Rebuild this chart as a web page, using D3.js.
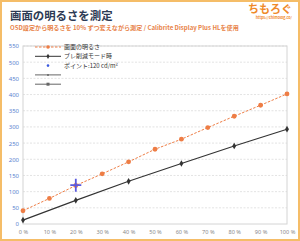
<!DOCTYPE html>
<html>
<head>
<meta charset="utf-8">
<script src="https://cdn.jsdelivr.net/npm/d3@7"></script>
<style>
body { margin: 0; background: #fff; }
svg { display: block; }
text { font-family: "Noto Sans CJK JP", "Noto Sans", sans-serif; }
</style>
</head>
<body>
<div id="chart"></div>
<script>
// data
var xLabels = ["0 %","10 %","20 %","30 %","40 %","50 %","60 %","70 %","80 %","90 %","100 %"];
var xSteps = [0,10,20,30,40,50,60,70,80,90,100];
var brightness = [41,79,119,155,192,231,262,298,333,367,402];
var blurSteps = [0,20,40,60,80,100];
var blurValues = [12,73,132,187,241,293];
var pointStep = [20];
var pointValue = [120];
var yTicks = [0,50,100,150,200,250,300,350,400,450,500,550];
var legendNames = ["画面の明るさ","ブレ削減モード時","ポイント:120 cd/m²","",""];

var W = 300, H = 241;
var svg = d3.select("#chart").append("svg")
    .attr("width", W)
    .attr("height", H);

// orange frame
svg.append("rect")
    .attr("x", 1).attr("y", 1)
    .attr("width", W - 2).attr("height", H - 2)
    .attr("fill", "#fff")
    .attr("stroke", "#f5bd68")
    .attr("stroke-width", 2);

// title
svg.append("text")
    .attr("x", 10).attr("y", 20)
    .attr("font-size", 11.4).attr("font-weight", "bold")
    .attr("fill", "#2d3b55")
    .text("画面の明るさを測定");
svg.append("text")
    .attr("x", 10).attr("y", 30)
    .attr("font-size", 6.1).attr("font-weight", "bold")
    .attr("fill", "#e8834a")
    .text("OSD設定から明るさを 10% ずつ変えながら測定 / Calibrite Display Plus HLを使用");

// logo
svg.append("text")
    .attr("x", 292).attr("y", 13)
    .attr("text-anchor", "end")
    .attr("font-size", 11).attr("font-weight", "bold")
    .attr("fill", "#ef8a2a")
    .text("ちもろぐ");
svg.append("text")
    .attr("x", 292).attr("y", 19)
    .attr("text-anchor", "end")
    .attr("font-size", 3.6).attr("font-weight", "bold")
    .attr("fill", "#ef8a2a")
    .text("https://chimolog.co/");

var plotL = 23, plotR = 287, plotT = 46, plotB = 224;
var x = d3.scaleLinear().domain([0,100]).range([plotL, plotR]);
var y = d3.scaleLinear().domain([0,550]).range([plotB, plotT]);

// gridlines
svg.append("g").selectAll("line")
    .data(yTicks.slice(1))
    .enter().append("line")
    .attr("x1", plotL).attr("x2", plotR)
    .attr("y1", d => y(d)).attr("y2", d => y(d))
    .attr("stroke", "#dcdcdc")
    .attr("stroke-width", 0.8)
    .attr("stroke-dasharray", "2,1.5");

// plot border
svg.append("rect")
    .attr("x", plotL).attr("y", plotT)
    .attr("width", plotR - plotL).attr("height", plotB - plotT)
    .attr("fill", "none")
    .attr("stroke", "#d4d4d4")
    .attr("stroke-width", 1);

// y axis
var yAxis = d3.axisLeft(y).tickValues(yTicks).tickSize(0).tickPadding(4);
var gy = svg.append("g").attr("transform", "translate(" + plotL + ",0)").call(yAxis);
gy.select(".domain").remove();
gy.selectAll("text")
    .attr("font-size", 6)
    .attr("fill", "#5b7fd0")
    .style("font-family", "'Noto Sans', sans-serif");

// x axis
var xAxis = d3.axisBottom(x).tickValues(xSteps).tickSize(0).tickPadding(6)
    .tickFormat((d, i) => xLabels[i]);
var gx = svg.append("g").attr("transform", "translate(0," + plotB + ")").call(xAxis);
gx.select(".domain").remove();
gx.selectAll("text")
    .attr("font-size", 5.6)
    .attr("fill", "#8a8a8a")
    .style("font-family", "'Noto Sans', sans-serif");

var line = d3.line()
    .x(d => x(d[0]))
    .y(d => y(d[1]));

// blur reduction line
var blurData = blurSteps.map((s, i) => [s, blurValues[i]]);
svg.append("path")
    .datum(blurData)
    .attr("d", line)
    .attr("fill", "none")
    .attr("stroke", "#333")
    .attr("stroke-width", 1.1);
svg.append("g").selectAll("path")
    .data(blurData)
    .enter().append("path")
    .attr("d", d3.symbol().type(d3.symbolDiamond).size(13))
    .attr("transform", d => "translate(" + x(d[0]) + "," + y(d[1]) + ")")
    .attr("fill", "#333");

// brightness line
var brData = xSteps.map((s, i) => [s, brightness[i]]);
svg.append("path")
    .datum(brData)
    .attr("d", line)
    .attr("fill", "none")
    .attr("stroke", "#ee7d45")
    .attr("stroke-width", 1)
    .attr("stroke-dasharray", "2.5,1.5");
svg.append("g").selectAll("circle")
    .data(brData)
    .enter().append("circle")
    .attr("cx", d => x(d[0]))
    .attr("cy", d => y(d[1]))
    .attr("r", 2.4)
    .attr("fill", "#ee7d45");

// point marker (cross)
var pt = pointStep.map((s, i) => [s, pointValue[i]]);
svg.append("g").selectAll("path")
    .data(pt)
    .enter().append("path")
    .attr("d", "M-5.5,0H5.5M0,-6.5V6.5")
    .attr("transform", d => "translate(" + x(d[0]) + "," + y(d[1]) + ")")
    .attr("stroke", "#5a5ae0")
    .attr("stroke-width", 1.8);

// legend
var lg = svg.append("g").attr("transform", "translate(35,47)");
var rowH = 9.3;
legendNames.forEach(function(name, i) {
    var g = lg.append("g").attr("transform", "translate(0," + (i * rowH) + ")");
    if (i == 0) {
        g.append("line").attr("x1", 0).attr("x2", 26).attr("y1", 0).attr("y2", 0)
            .attr("stroke", "#ee7d45").attr("stroke-width", 1).attr("stroke-dasharray", "2.5,1.5");
        g.append("circle").attr("cx", 13).attr("cy", 0).attr("r", 1.8).attr("fill", "#ee7d45");
    } else if (i == 1) {
        g.append("line").attr("x1", 0).attr("x2", 26).attr("y1", 0).attr("y2", 0)
            .attr("stroke", "#333").attr("stroke-width", 1);
        g.append("path").attr("d", d3.symbol().type(d3.symbolDiamond).size(8))
            .attr("transform", "translate(13,0)").attr("fill", "#333");
    } else if (i == 2) {
        g.append("circle").attr("cx", 13).attr("cy", 0).attr("r", 1.3).attr("fill", "#3a5ae0");
    } else if (i == 3) {
        g.append("line").attr("x1", 0).attr("x2", 26).attr("y1", 0).attr("y2", 0)
            .attr("stroke", "#666").attr("stroke-width", 1);
        g.append("circle").attr("cx", 13).attr("cy", 0).attr("r", 1).attr("fill", "#666");
    } else {
        g.append("line").attr("x1", 0).attr("x2", 26).attr("y1", 0).attr("y2", 0)
            .attr("stroke", "#666").attr("stroke-width", 1);
        g.append("rect").attr("x", 11.5).attr("y", -1.5).attr("width", 3).attr("height", 3).attr("fill", "#666");
    }
    if (name) {
        g.append("text").attr("x", 29).attr("y", 2)
            .attr("font-size", 6).attr("fill", "#333")
            .text(name);
    }
});
</script>
</body>
</html>
